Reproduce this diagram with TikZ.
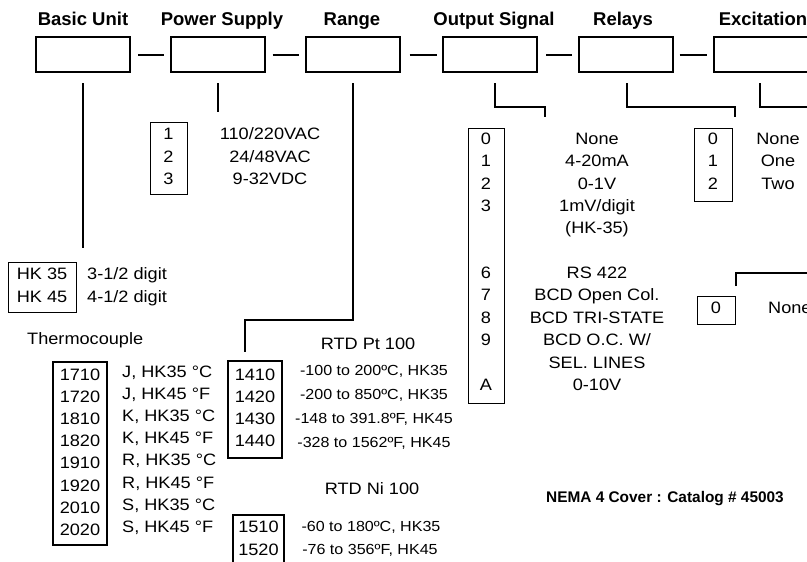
\documentclass[tikz,border=0pt]{standalone}
\usepackage{fontspec}
\setmainfont[FakeStretch=1.1]{Liberation Sans}
\newfontfamily\hdfont{Liberation Sans}
\begin{document}
\begin{tikzpicture}[x=1pt,y=-1pt,
  topbox/.style={draw,line width=2pt,minimum width=94pt,minimum height=35pt,inner sep=0pt},
  hdr/.style={anchor=base,font=\hdfont\bfseries\fontsize{18.5}{20}\selectfont,inner sep=0pt},
  txt/.style={anchor=base,font=\fontsize{16.5}{18}\selectfont,inner sep=0pt},
  sm/.style={anchor=base,font=\fontsize{14.6}{16}\selectfont,inner sep=0pt},
  thinbox/.style={draw,line width=1pt,inner sep=0pt},
  thickbox/.style={draw,line width=2.6pt,inner sep=0pt},
  conn/.style={line width=2.6pt},
  linkline/.style={line width=2pt}]
\clip (0,0) rectangle (807,562);
\fill[white] (0,0) rectangle (807,562);

% top boxes
\node[topbox] (basic) at (83,54.5) {};
\node[topbox] (power) at (217.5,54.5) {};
\node[topbox] (range) at (352.5,54.5) {};
\node[topbox] (output) at (490,54.5) {};
\node[topbox] (relays) at (625.5,54.5) {};
\node[topbox] (excit) at (760.5,54.5) {};

\node[hdr] (hbasic) at (83,26) {Basic Unit};
\node[hdr] (hpower) at (222,26) {Power Supply};
\node[hdr] (hrange) at (352,26) {Range};
\node[hdr] (houtput) at (494,26) {Output Signal};
\node[hdr] (hrelays) at (623,26) {Relays};
\node[hdr] (hexcit) at (763,26) {Excitation};

\draw[linkline] ([xshift=7pt]basic.east) -- ([xshift=-6pt]power.west);
\draw[linkline] ([xshift=7pt]power.east) -- ([xshift=-6pt]range.west);
\draw[linkline] ([xshift=9pt]range.east) -- ([xshift=-5pt]output.west);
\draw[linkline] ([xshift=8pt]output.east) -- ([xshift=-6pt]relays.west);
\draw[linkline] ([xshift=6pt]relays.east) -- ([xshift=-6pt]excit.west);

% connector coordinates
\coordinate (b0) at (83,83);   \coordinate (b1) at (83,248);
\coordinate (p0) at (218,83);  \coordinate (p1) at (218,112);
\coordinate (r0) at (353,83);  \coordinate (r1) at (353,320);
\coordinate (r2) at (245,320); \coordinate (r3) at (245,352);
\coordinate (o0) at (495,83);  \coordinate (o1) at (495,107);
\coordinate (o2) at (545,107); \coordinate (o3) at (545,117);
\coordinate (l0) at (627,83);  \coordinate (l1) at (627,107);
\coordinate (l2) at (735,107); \coordinate (l3) at (735,117);
\coordinate (e0) at (760,83);  \coordinate (e1) at (760,107);
\coordinate (e2) at (815,107);
\coordinate (x0) at (736,286); \coordinate (x1) at (736,273);
\coordinate (x2) at (815,273);

\draw[conn] (b0) -- (b1);
\draw[conn] (p0) -- (p1);
\draw[conn] (r0) -- (r1) -- (r2) -- (r3);
\draw[conn] (o0) -- (o1) -- (o2) -- (o3);
\draw[conn] (l0) -- (l1) -- (l2) -- (l3);
\draw[conn] (e0) -- (e1) -- (e2);
\draw[conn] (x0) -- (x1) -- (x2);

% power supply
\node[thinbox,minimum width=37pt,minimum height=72pt] (pbox) at (168.5,158) {};
\node[txt] (p1n) at (168.5,139) {1};
\node[txt] (p2n) at (168.5,162) {2};
\node[txt] (p3n) at (168.5,184) {3};
\node[txt] (p1t) at (270,139) {110/220VAC};
\node[txt] (p2t) at (270,162) {24/48VAC};
\node[txt] (p3t) at (270,184) {9-32VDC};

% basic unit
\node[thinbox,minimum width=68pt,minimum height=50pt] (hkbox) at (42,287) {};
\node[txt] (hk35) at (42,279) {HK 35};
\node[txt] (hk45) at (42,302) {HK 45};
\node[txt,anchor=base west] (d35) at (87,279) {3-1/2 digit};
\node[txt,anchor=base west] (d45) at (87,302) {4-1/2 digit};

% thermocouple
\node[txt,anchor=base west] (thermo) at (27,344) {Thermocouple};
\node[thickbox,minimum width=54pt,minimum height=183pt] (tbox) at (80,453.5) {};
\foreach \n/\t/\y [count=\i] in {1710/{J, HK35 °C}/380,1720/{J, HK45 °F}/402.2,1810/{K, HK35 °C}/424.4,1820/{K, HK45 °F}/446.6,1910/{R, HK35 °C}/468.8,1920/{R, HK45 °F}/491,2010/{S, HK35 °C}/513.2,2020/{S, HK45 °F}/535.4}{
  \node[txt] (tn\i) at (80,\y) {\n};
  \node[txt,anchor=base west] (tt\i) at (122,\y-3) {\t};
}

% RTD Pt 100
\node[txt] (ptitle) at (368,349) {RTD Pt 100};
\node[thickbox,minimum width=54pt,minimum height=97pt] (rbox) at (255,409.5) {};
\foreach \n/\y/\t/\z [count=\i] in {1410/380/{-100 to 200ºC, HK35}/375,1420/402/{-200 to 850ºC, HK35}/399,1430/424/{-148 to 391.8ºF, HK45}/423,1440/446/{-328 to 1562ºF, HK45}/447}{
  \node[txt] (rn\i) at (255,\y) {\n};
  \node[sm] (rt\i) at (374,\z) {\t};
}

% RTD Ni 100
\node[txt] (ntitle) at (372,494) {RTD Ni 100};
\node[thickbox,minimum width=51pt,minimum height=70pt] (nbox) at (258.5,550) {};
\node[txt] (nn1) at (258.5,532) {1510};
\node[txt] (nn2) at (258.5,555) {1520};
\node[sm] (nt1) at (371,531) {-60 to 180ºC, HK35};
\node[sm] (nt2) at (370,554) {-76 to 356ºF, HK45};

% output signal
\node[thinbox,minimum width=36pt,minimum height=275pt] (obox) at (486,265.5) {};
\foreach \d/\t/\y [count=\i] in {0/None/144,1/4-20mA/166.5,2/0-1V/189,3/1mV\slash digit/211.5,6/RS 422/278,7/BCD Open Col./300.5,8/BCD TRI-STATE/323,9/BCD O.C. W\slash/345.5,A/0-10V/390}{
  \node[txt] (od\i) at (486,\y) {\d};
  \node[txt] (ot\i) at (597,\y) {\t};
}
\node[txt] (ohk) at (597,233) {(HK-35)};
\node[txt] (osel) at (597,368) {SEL. LINES};

% relays
\node[thinbox,minimum width=38pt,minimum height=73pt] (lbox) at (713,164.5) {};
\node[txt] (ld0) at (713,144) {0};
\node[txt] (ld1) at (713,166.5) {1};
\node[txt] (ld2) at (713,189) {2};
\node[txt] (lt0) at (778,144) {None};
\node[txt] (lt1) at (778,166.5) {One};
\node[txt] (lt2) at (778,189) {Two};

% excitation
\node[thinbox,minimum width=38pt,minimum height=28pt] (xbox) at (716,310) {};
\node[txt] (xd0) at (716,313) {0};
\node[txt,anchor=base west] (xt0) at (768,313) {None};

% NEMA
\node[anchor=base,inner sep=0pt,font=\hdfont\bfseries\fontsize{15.4}{17}\selectfont] (nema) at (665,502) {NEMA 4 Cover : Catalog \# 45003};
\end{tikzpicture}
\end{document}
